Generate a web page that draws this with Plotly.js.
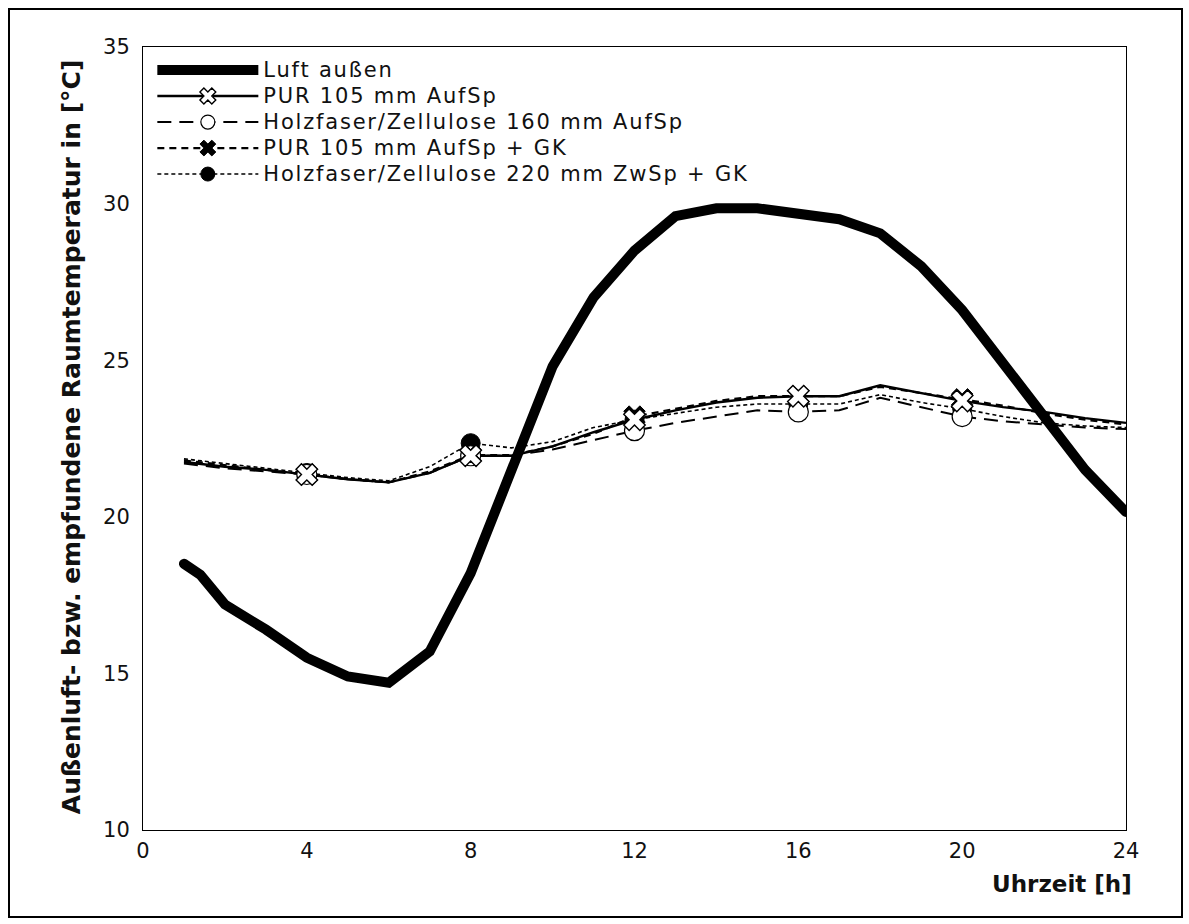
<!DOCTYPE html>
<html><head><meta charset="utf-8">
<script src="https://cdn.plot.ly/plotly-3.0.1.min.js"></script>
<style>
body{margin:0;background:#fff}
#chart{width:1189px;height:924px}
#frame{position:absolute;left:8px;top:8px;width:1171px;height:906px;border:2px solid #000;pointer-events:none}
.legendtext{letter-spacing:1.8px;font-size:21px !important}
.traceluft .js-line{stroke-linecap:round}
</style>
</head><body>
<div id="chart"></div><div id="frame"></div>
<script>
// ---- data ----
const hoursOut = [1,1.4,2,3,4,5,6,7,8,9,10,11,12,13,14,15,16,17,18,19,20,21,22,23,24];
const luftAussen = [18.5,18.15,17.2,16.4,15.5,14.9,14.7,15.7,18.2,21.5,24.8,27.0,28.5,29.6,29.85,29.85,29.7,29.5,29.05,28.0,26.6,24.9,23.1,21.5,20.15];

const hours = [1,2,3,4,5,6,7,8,9,10,11,12,13,14,15,16,17,18,19,20,21,22,23,24];
const purAufSp   = [21.75,21.6,21.5,21.35,21.2,21.1,21.4,21.95,21.95,22.25,22.7,23.1,23.4,23.65,23.8,23.85,23.85,24.2,23.95,23.7,23.5,23.35,23.15,23.0];
const holz160    = [21.7,21.55,21.45,21.35,21.2,21.1,21.4,21.95,21.95,22.15,22.45,22.75,23.0,23.2,23.4,23.35,23.4,23.8,23.5,23.2,23.05,22.95,22.85,22.8];
const purGK      = [21.8,21.65,21.5,21.35,21.2,21.1,21.45,21.97,21.97,22.25,22.65,23.2,23.45,23.7,23.85,23.85,23.85,24.15,23.95,23.75,23.55,23.3,23.1,22.95];
const holz220    = [21.85,21.7,21.55,21.4,21.25,21.15,21.6,22.35,22.2,22.4,22.85,23.1,23.3,23.5,23.6,23.6,23.6,23.9,23.65,23.45,23.2,23.0,22.9,22.85];
const markerHours = [4,8,12,16,20];

const nameLuft = 'Luft außen';
const namePurAufSp = 'PUR 105 mm AufSp';
const nameHolz160 = 'Holzfaser/Zellulose 160 mm AufSp';
const namePurGK = 'PUR 105 mm AufSp + GK';
const nameHolz220 = 'Holzfaser/Zellulose 220 mm ZwSp + GK';
const xTicks = [0,4,8,12,16,20,24];
const yTicks = [10,15,20,25,30,35];
const xTitle = 'Uhrzeit [h]';
const yTitle = 'Außenluft- bzw. empfundene Raumtemperatur in [°C]';

// ---- styling ----
const FONT = 'DejaVu Sans, Arial, sans-serif';
const pick = (series) => markerHours.map(h => series[hours.indexOf(h)]);

const series = [
  // drawn bottom to top
  {y: holz220, name: nameHolz220, rank: 5, line: {color: '#000', width: 1.6, dash: '4px,3px'},
   marker: {symbol: 'circle', color: '#000', line: {color: '#000', width: 1}}, ms: 19, lms: 14},
  {y: holz160, name: nameHolz160, rank: 3, line: {color: '#000', width: 2, dash: '14px,8px'},
   marker: {symbol: 'circle', color: '#fff', line: {color: '#000', width: 1.2}}, ms: 20, lms: 14},
  {y: purGK, name: namePurGK, rank: 4, line: {color: '#000', width: 2.2, dash: '7px,5px'},
   marker: {symbol: 'x', color: '#000', line: {color: '#000', width: 1}}, ms: 19, lms: 14},
  {y: purAufSp, name: namePurAufSp, rank: 2, line: {color: '#000', width: 2.4},
   marker: {symbol: 'x', color: '#fff', line: {color: '#000', width: 1.4}}, ms: 19, lms: 14}
];

const traces = [];
series.forEach(s => traces.push({x: hours, y: s.y, mode: 'lines', showlegend: false, line: s.line}));
series.forEach(s => traces.push({x: markerHours, y: pick(s.y), mode: 'markers', showlegend: false,
  marker: Object.assign({}, s.marker, {size: s.ms, opacity: 1})}));
traces.push({x: hoursOut, y: luftAussen, name: nameLuft, uid: 'luft', legendrank: 1, mode: 'lines',
  line: {color: '#000', width: 10}});
series.forEach(s => traces.push({x: [null], y: [null], name: s.name, legendrank: s.rank, mode: 'lines+markers',
  line: s.line, marker: Object.assign({}, s.marker, {size: s.lms, opacity: 1})}));

const layout = {
  width: 1189, height: 924,
  paper_bgcolor: '#fff', plot_bgcolor: '#fff',
  margin: {l: 143, r: 63, t: 47, b: 94},
  showlegend: true,
  hovermode: false,
  font: {family: FONT, color: '#111'},
  legend: {x: 0.0095, y: 0.9936, xanchor: 'left', yanchor: 'top', bgcolor: 'rgba(255,255,255,0)',
           borderwidth: 0, font: {family: FONT, size: 17.7, color: '#111'},
           itemwidth: 101, tracegroupgap: 0},
  xaxis: {range: [0, 24], tickvals: xTicks, ticktext: xTicks.map(String), showgrid: false, zeroline: false,
          showline: true, mirror: true, linecolor: '#000', linewidth: 1, ticks: '', ticklabelstandoff: 2,
          tickfont: {family: FONT, size: 21, color: '#111'}},
  yaxis: {range: [10, 35], tickvals: yTicks, ticktext: yTicks.map(String), showgrid: false, zeroline: false,
          showline: true, mirror: true, linecolor: '#000', linewidth: 1, ticks: '', ticklabelstandoff: 8,
          tickfont: {family: FONT, size: 21, color: '#111'}},
  annotations: [
    {text: '<b>' + xTitle + '</b>', xref: 'paper', yref: 'paper', x: 1.008, y: -0.069,
     xanchor: 'right', yanchor: 'middle', showarrow: false, font: {family: FONT, size: 23, color: '#111'}},
    {text: '<b>' + yTitle + '</b>', xref: 'paper', yref: 'paper', x: -0.072, y: 0.502,
     xanchor: 'center', yanchor: 'middle', textangle: -90, showarrow: false, font: {family: FONT, size: 25, color: '#111'}}
  ]
};

Plotly.newPlot('chart', traces, layout, {displayModeBar: false, staticPlot: true});
</script>
</body></html>
